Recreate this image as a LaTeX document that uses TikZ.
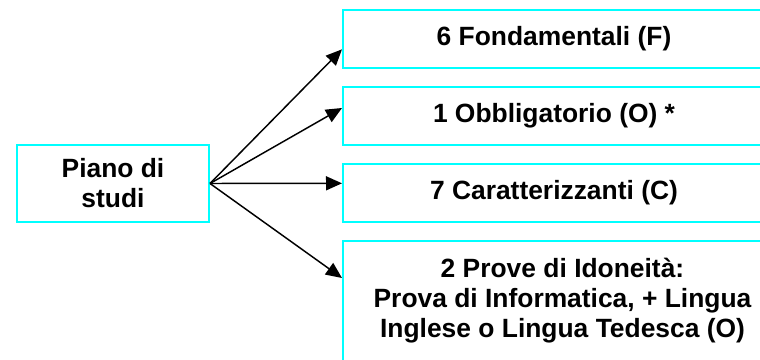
\documentclass[tikz,border=0pt]{standalone}
\usepackage{fontspec}
\setmainfont{Liberation Sans}
\usetikzlibrary{arrows.meta}
\definecolor{boxcyan}{RGB}{0,255,255}
\tikzset{
  cbox/.style={draw=boxcyan, line width=1.5pt, rectangle, align=center,
    inner sep=0pt, minimum height=43.5pt, minimum width=316.5pt},
  arr/.style={line width=1.1pt, -{Triangle[length=12pt,width=10.5pt]}}
}
\begin{document}
\begin{tikzpicture}[x=0.75pt,y=-0.75pt,font=\fontsize{19.8}{22.5}\selectfont\bfseries]
\useasboundingbox (0,0) rectangle (760,360);

\node[cbox, minimum width=144pt, minimum height=57.75pt] (piano) at (113,183.5) {Piano di\\studi};

\node[cbox] (fond) at (554,39) {6 Fondamentali (F)};
\node[cbox] (obbl) at (554,116) {1 Obbligatorio (O) *};
\node[cbox] (car) at (554,192.5) {7 Caratterizzanti (C)};
\node[cbox, minimum width=329.25pt, minimum height=100.5pt] (prove) at (562.5,308) {};
\node[align=center, inner sep=0pt] (provetxt) at (562.5,301) {2 Prove di Idoneità:\\Prova di Informatica, + Lingua\\Inglese o Lingua Tedesca (O)};

\draw [arr](piano.east) -- ([yshift=-7.75pt]fond.west);
\draw [arr](piano.east) -- ([yshift=6pt]obbl.west);
\draw [arr](piano.east) -- ([yshift=6.9pt]car.west);
\draw [arr](piano.east) -- ([yshift=22.5pt]prove.west);

\end{tikzpicture}
\end{document}
